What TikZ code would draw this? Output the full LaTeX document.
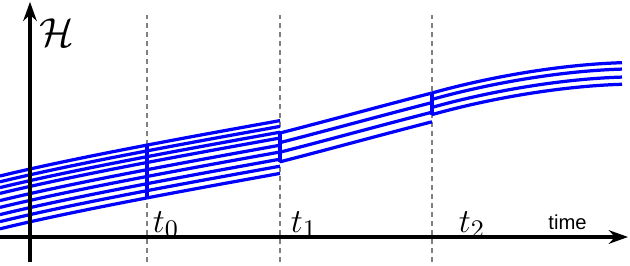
\documentclass[tikz,border=0pt]{standalone}
\usepackage{fontspec}
\newfontfamily\axisfont{Liberation Sans}
\usetikzlibrary{arrows.meta}

\begin{document}
\begin{tikzpicture}[
    strand/.style={blue, line width=1.15pt},
    timemark/.style={gray, line width=0.4pt, dash pattern=on 1.8pt off 1.4pt},
    axis/.style={line width=1.1pt, -{Stealth[length=2.4mm,width=1.7mm]}},
    font=\fontsize{12.5}{15}\selectfont
  ]
  \useasboundingbox (-0.375,-0.35) rectangle (7.5,2.9625);

  % dashed marks at the three times
  \foreach \t in {1.4625,3.125,5.025}
    \draw[timemark] (\t,-0.3125) -- (\t,2.775);

  % nine histories up to t1
  \foreach \d in {0,0.0725,0.145,0.2175,0.3075,0.3925,0.4825,0.57,0.66}
    \draw[strand,yshift=-\d cm] (-0.375,0.7625) .. controls (0.6,1.0) and (2.1,1.27) .. (3.125,1.455);
  \draw[strand] (1.4625,1.15) -- (1.4625,0.49);

  % four histories from t1 to t2
  \foreach \d in {0,0.12,0.24,0.36}
    \draw[strand,yshift=-\d cm] (3.125,1.3) .. controls (3.75,1.46) and (4.4,1.64) .. (5.025,1.8);
  \draw[strand] (3.125,1.3) -- (3.125,0.94);

  % four histories after t2
  \foreach \d in {0,0.08,0.18,0.27}
    \draw[strand,yshift=-\d cm] (5.025,1.8) .. controls (5.7,1.99) and (6.6,2.155) .. (7.4,2.179);
  \draw[strand] (5.025,1.8) -- (5.025,1.53);

  % axes
  \draw[axis] (0,-0.3125) -- (0,2.94);
  \draw[axis] (-0.375,0) -- (7.475,0);

  \node[font=\fontsize{14}{16}\selectfont] (hilbert) at (0.34,2.55) {$\mathcal{H}$};
  \node (tzero) at (1.7,0.16) {$t_0$};
  \node (tone) at (3.425,0.16) {$t_1$};
  \node (ttwo) at (5.525,0.16) {$t_2$};
  \node[font=\axisfont\fontsize{7.2}{8}\selectfont] (timelabel) at (6.72,0.18) {time};
\end{tikzpicture}
\end{document}
